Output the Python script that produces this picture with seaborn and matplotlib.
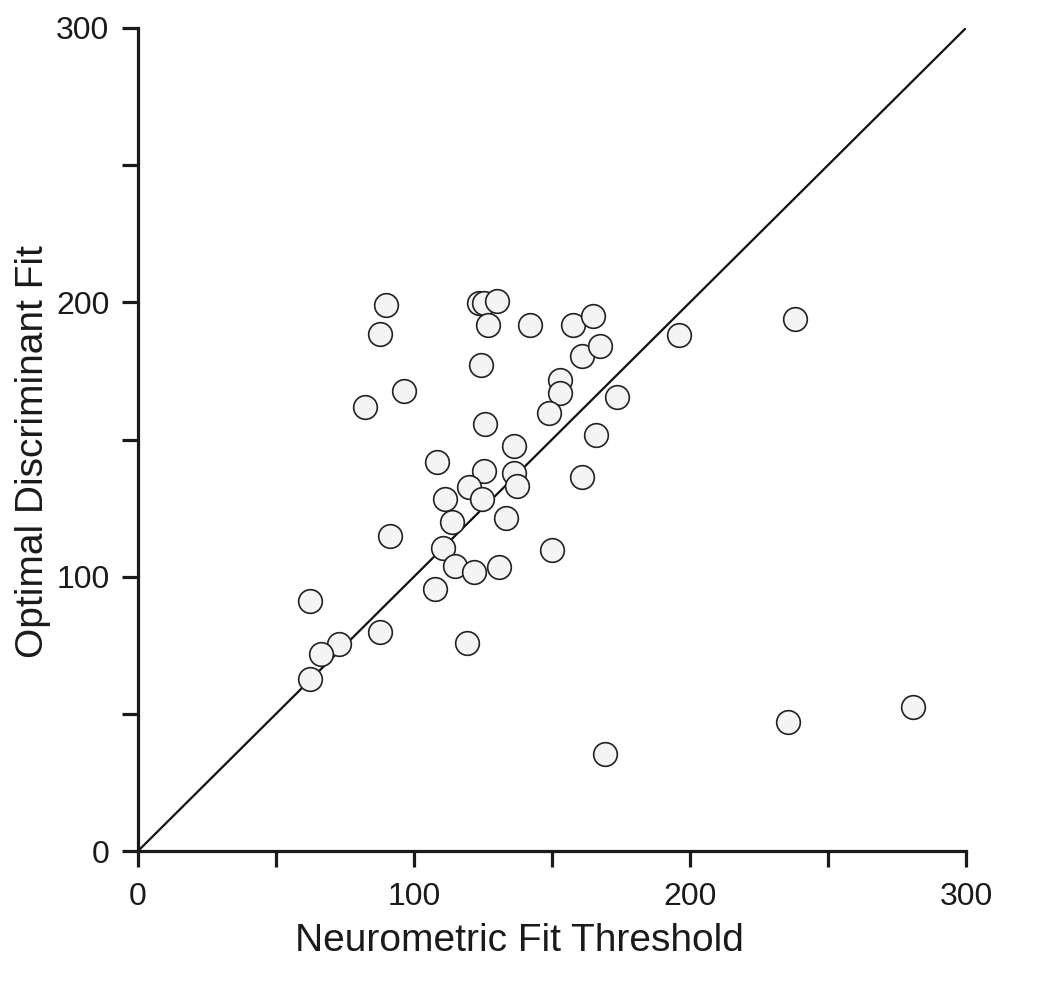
import numpy as np
import pandas as pd
import matplotlib
matplotlib.use('Agg')
import matplotlib.pyplot as plt
import seaborn as sns

# values
neurometric = [89.9, 87.7, 96.4, 82.2, 123.6, 125.2, 130.1, 126.8, 142.0, 157.6,
               164.9, 124.3, 160.9, 167.4, 152.9, 152.9, 173.6, 196.0, 238.0, 148.9,
               125.7, 136.2, 165.9, 108.3, 125.4, 136.2, 137.3, 119.9, 111.2, 124.6,
               160.9, 113.8, 133.3, 91.3, 110.5, 150.0, 114.9, 121.7, 130.8, 107.6,
               62.3, 87.7, 72.8, 66.3, 119.2, 62.3, 169.2, 235.5, 280.8]
optimal = [199.1, 188.5, 167.7, 161.9, 199.8, 199.8, 200.5, 191.8, 191.8, 191.8,
           195.0, 177.2, 180.5, 184.1, 171.7, 167.0, 165.5, 188.1, 194.0, 159.7,
           155.7, 147.6, 151.7, 141.8, 138.5, 137.8, 133.1, 132.7, 128.3, 128.3,
           136.3, 119.9, 121.4, 114.8, 110.5, 109.7, 103.9, 101.7, 103.5, 95.5,
           91.1, 79.8, 75.5, 71.8, 75.8, 62.7, 35.4, 47.0, 52.5]
diag = [0, 300]
major_ticks = [0, 100, 200, 300]
minor_ticks = [50, 150, 250]

df = pd.DataFrame({'Neurometric Fit Threshold': neurometric,
                   'Optimal Discriminant Fit': optimal})

sns.set_style('ticks')
plt.rcParams['font.family'] = ['Liberation Sans', 'DejaVu Sans']

fig = plt.figure(figsize=(10.5, 9.85), dpi=100)
ax = fig.add_axes([0.1314, 0.136, 0.7886, 0.8356])

ax.plot(diag, diag, color='#111111', lw=1.6, zorder=1)
sns.scatterplot(data=df, x='Neurometric Fit Threshold', y='Optimal Discriminant Fit',
                ax=ax, s=290, color='#f4f4f4', edgecolor='#222222', linewidth=1.2,
                zorder=3, clip_on=False)

ax.set_xlim(0, 300)
ax.set_ylim(0, 300)
ax.set_xticks(major_ticks + minor_ticks)
ax.set_xticklabels([str(t) for t in major_ticks] + [''] * len(minor_ticks))
ax.set_yticks(major_ticks + minor_ticks)
ax.set_yticklabels([str(t) for t in major_ticks] + [''] * len(minor_ticks))

for side in ['top', 'right']:
    ax.spines[side].set_visible(False)
for side in ['left', 'bottom']:
    ax.spines[side].set_linewidth(2.3)
    ax.spines[side].set_color('#1a1a1a')

ax.tick_params(axis='both', direction='out', length=11.5, width=2.3, color='#1a1a1a',
               labelsize=23, labelcolor='#1a1a1a')
ax.tick_params(axis='x', pad=11)
ax.tick_params(axis='y', pad=9)
ax.set_xlabel('Neurometric Fit Threshold', fontsize=28, color='#1a1a1a', labelpad=8)
ax.set_ylabel('Optimal Discriminant Fit', fontsize=28, color='#1a1a1a', labelpad=4)
# labels sit a little off-centre in the original
ax.xaxis.label.set_x(0.461)
ax.yaxis.label.set_y(0.485)

fig.savefig('out.png', dpi=100)
plt.close()
